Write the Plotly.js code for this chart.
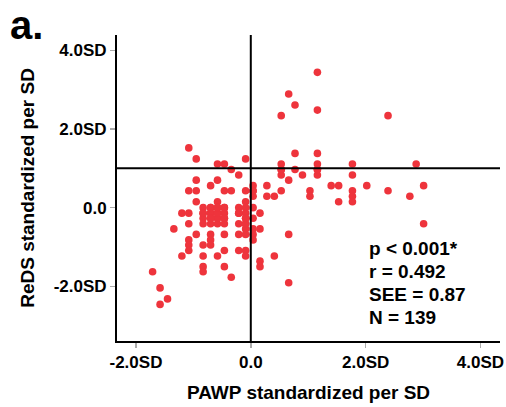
<!DOCTYPE html>
<html>
<head>
<meta charset="utf-8">
<script src="https://cdn.plot.ly/plotly-3.0.1.min.js"></script>
<style>html,body{margin:0;padding:0;background:#fff;}#chart{width:506px;height:407px;}</style>
</head>
<body>
<div id="chart"></div>
<script>
// PAWP (x) and ReDS (y), standardized per SD
const pawp = [
  1.16,0.66,0.77,1.16,0.53,2.39,-1.08,-0.95,-0.09,0.77,1.16,-0.58,-0.46,-0.34,-0.21,0.53,0.53,0.53,0.77,0.90,
  1.16,1.16,1.16,1.77,1.77,2.88,0.66,0.53,0.28,0.28,0.41,1.03,1.03,1.40,1.53,1.53,1.77,1.77,1.77,2.02,
  2.39,2.77,3.01,3.01,0.66,0.66,0.41,0.16,0.16,0.16,0.16,
  -0.09,-0.09,-0.09,-0.09,-0.09,-0.09,-0.09,-0.09,-0.09,-0.09,
  0.04,0.04,0.04,0.04,0.04,0.04,0.04,0.04,
  -0.21,-0.21,-0.21,-0.21,-0.21,
  -0.95,-0.58,-1.08,-0.95,-0.70,-0.46,-0.34,-0.95,-0.58,-1.20,-1.08,-1.34,-1.08,-0.95,-1.08,-1.08,-1.08,
  -1.20,-0.83,-0.70,-0.70,-0.70,-0.46,-0.58,-0.46,-0.83,-0.83,-0.83,-0.46,-0.34,-1.71,-1.58,-1.45,-1.58,
  -0.83,-0.83,-0.83,-0.83,-0.70,-0.70,-0.70,-0.70,-0.58,-0.58,-0.58,-0.58,-0.46,-0.46,-0.46,-0.46,
  -0.70,-0.58,-0.70,-0.58,-0.46,-0.83,-0.09,-0.09,0.04,-0.46,-0.70,-0.58,-0.21,1.16,0.53
];
const reds = [
  3.44,2.89,2.61,2.48,2.34,2.34,1.52,1.24,1.24,1.38,1.38,1.11,1.11,0.97,0.83,1.11,0.97,0.83,0.97,0.83,
  1.11,0.97,0.83,1.11,0.83,1.11,0.70,0.43,0.56,0.29,0.29,0.43,0.29,0.56,0.56,0.15,0.43,0.29,0.15,0.56,
  0.43,0.29,0.56,-0.41,-0.68,-1.91,-1.23,-1.36,-1.50,-0.54,-0.14,
  0.43,0.15,0.00,-0.14,-0.27,-0.41,-0.54,-0.68,-1.09,-1.23,
  0.56,0.43,0.29,0.00,-0.27,-0.54,-0.68,-0.82,
  0.00,-0.14,-0.41,-0.68,-1.09,
  0.70,0.70,0.43,0.43,0.56,0.43,0.43,0.15,0.15,-0.14,-0.14,-0.54,-0.41,-0.68,-0.82,-0.95,-1.09,
  -1.23,-0.95,-0.68,-0.82,-0.95,-0.68,-1.23,-1.09,-1.23,-1.50,-1.63,-1.50,-1.77,-1.63,-2.04,-2.32,-2.46,
  0.00,-0.14,-0.27,-0.41,0.00,-0.14,-0.27,-0.41,0.00,-0.14,-0.27,-0.41,0.00,-0.14,-0.27,-0.41,
  -0.14,-0.27,-0.27,-0.14,-0.27,-0.14,-0.41,-0.27,0.43,0.00,0.00,0.00,-0.14,0.97,0.97
];
const tickVals = [-2, 0, 2, 4];
const tickText = ['-2.0SD', '0.0', '2.0SD', '4.0SD'];
const refX = 0;      // vertical reference line (PAWP)
const refY = 1;      // horizontal reference line (ReDS)
const stats = ['p < 0.001*', 'r = 0.492', 'SEE = 0.87', 'N = 139'];

const font = {family: 'Liberation Sans, Arial, sans-serif', color: '#000'};
const bold = Object.assign({}, font, {weight: 700});

const trace = {
  x: pawp, y: reds, type: 'scatter', mode: 'markers',
  marker: {color: 'rgb(238,52,60)', size: 7.6, line: {width: 0}},
  hoverinfo: 'skip'
};

const axisCommon = {
  showgrid: false, zeroline: false, showline: true, linecolor: '#000', linewidth: 2,
  ticks: 'outside', ticklen: 5, tickwidth: 1.5, tickcolor: '#aaaaaa',
  tickvals: tickVals, ticktext: tickText,
  tickfont: Object.assign({}, bold, {size: 17})
};

const layout = {
  width: 506, height: 407,
  margin: {l: 117, r: 6, t: 35, b: 66},
  paper_bgcolor: '#fff', plot_bgcolor: '#fff',
  showlegend: false,
  title: {text: 'a.', font: Object.assign({}, bold, {size: 40}), xref: 'container', yref: 'container',
          x: 10/506, xanchor: 'left', y: 1 - 25/407, yanchor: 'middle'},
  xaxis: Object.assign({}, axisCommon, {
    range: [-2.33, 4.34],
    title: {text: 'PAWP standardized per SD', font: Object.assign({}, bold, {size: 19}), standoff: 14}
  }),
  yaxis: Object.assign({}, axisCommon, {
    range: [-3.39, 4.39],
    title: {text: 'ReDS standardized per SD', font: Object.assign({}, bold, {size: 19}), standoff: 14}
  }),
  shapes: [
    {type: 'line', xref: 'x', yref: 'paper', x0: refX, x1: refX, y0: 0, y1: 1, line: {color: '#000', width: 2}},
    {type: 'line', xref: 'paper', yref: 'y', x0: 0, x1: 1, y0: refY, y1: refY, line: {color: '#000', width: 2}}
  ],
  annotations: stats.map((s, i) => ({
    text: s, xref: 'paper', yref: 'paper', x: (367 - 117) / (500 - 117), xanchor: 'left',
    y: (341 - (248 + i * 23.3)) / (341 - 35), yanchor: 'middle', showarrow: false,
    font: Object.assign({}, bold, {size: 19})
  }))
};

Plotly.newPlot('chart', [trace], layout, {displayModeBar: false, staticPlot: true});
</script>
</body>
</html>
